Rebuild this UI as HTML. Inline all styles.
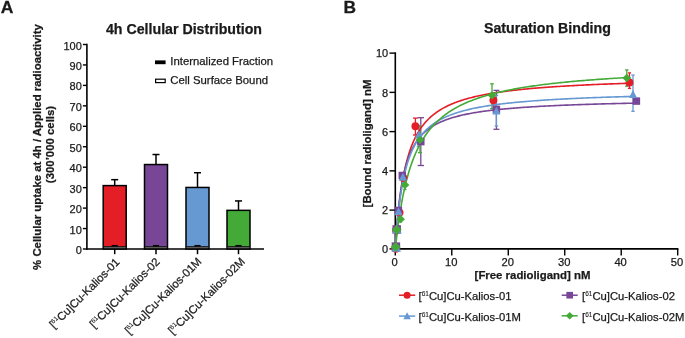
<!DOCTYPE html>
<html><head><meta charset="utf-8"><style>
html,body{margin:0;padding:0;background:#fff;width:685px;height:338px;overflow:hidden}
svg{display:block;will-change:transform}
text{font-family:"Liberation Sans", sans-serif;fill:#1a1a1a;stroke:#1a1a1a;stroke-width:0.25px}
tspan.s{stroke-width:0.1px}
</style></head><body>
<svg width="685" height="338" viewBox="0 0 685 338">
<text transform="translate(0.7,12.7) scale(1.07,1)" font-size="16.4" font-weight="bold">A</text>
<text x="184" y="33.7" font-size="14.2" font-weight="bold" text-anchor="middle">4h Cellular Distribution</text>
<text transform="translate(40.9,147) rotate(-90)" font-size="11.4" font-weight="bold" text-anchor="middle">% Cellular uptake at 4h / Applied radioactivity</text>
<text transform="translate(53.8,144.5) rotate(-90)" font-size="11.4" font-weight="bold" text-anchor="middle">(300’000 cells)</text>
<line x1="114.7" y1="185.6" x2="114.7" y2="179.67" stroke="#000" stroke-width="1.5"/>
<line x1="111.2" y1="179.67" x2="118.2" y2="179.67" stroke="#000" stroke-width="1.5"/>
<rect x="103.2" y="185.6" width="23" height="63.4" fill="#e41e26" stroke="#000" stroke-width="1.5"/>
<rect x="103.9" y="246.6" width="21.6" height="2.4" fill="#636363"/>
<line x1="103.2" y1="246.6" x2="126.2" y2="246.6" stroke="#111" stroke-width="0.9"/>
<line x1="111.6" y1="245.7" x2="117.8" y2="245.7" stroke="#000" stroke-width="1.5"/>
<line x1="114.7" y1="249" x2="114.7" y2="254.2" stroke="#000" stroke-width="1.5"/>
<text transform="translate(120.3,262.9) rotate(-45)" font-size="11.35" text-anchor="end">[<tspan class="s" font-size="6.5" dy="-4.2">61</tspan><tspan dy="4.2">Cu]Cu-Kalios-01</tspan></text>
<line x1="156" y1="164.54" x2="156" y2="154.52" stroke="#000" stroke-width="1.5"/>
<line x1="152.5" y1="154.52" x2="159.5" y2="154.52" stroke="#000" stroke-width="1.5"/>
<rect x="144.5" y="164.54" width="23" height="84.46" fill="#784696" stroke="#000" stroke-width="1.5"/>
<rect x="145.2" y="246.6" width="21.6" height="2.4" fill="#636363"/>
<line x1="144.5" y1="246.6" x2="167.5" y2="246.6" stroke="#111" stroke-width="0.9"/>
<line x1="152.9" y1="245.7" x2="159.1" y2="245.7" stroke="#000" stroke-width="1.5"/>
<line x1="156" y1="249" x2="156" y2="254.2" stroke="#000" stroke-width="1.5"/>
<text transform="translate(160.4,262.5) rotate(-45)" font-size="11.35" text-anchor="end">[<tspan class="s" font-size="6.5" dy="-4.2">61</tspan><tspan dy="4.2">Cu]Cu-Kalios-02</tspan></text>
<line x1="197.5" y1="187.45" x2="197.5" y2="172.72" stroke="#000" stroke-width="1.5"/>
<line x1="194" y1="172.72" x2="201" y2="172.72" stroke="#000" stroke-width="1.5"/>
<rect x="186" y="187.45" width="23" height="61.55" fill="#6699d2" stroke="#000" stroke-width="1.5"/>
<rect x="186.7" y="246.6" width="21.6" height="2.4" fill="#636363"/>
<line x1="186" y1="246.6" x2="209" y2="246.6" stroke="#111" stroke-width="0.9"/>
<line x1="194.4" y1="245.7" x2="200.6" y2="245.7" stroke="#000" stroke-width="1.5"/>
<line x1="197.5" y1="249" x2="197.5" y2="254.2" stroke="#000" stroke-width="1.5"/>
<text transform="translate(202.3,262.2) rotate(-45)" font-size="11.35" text-anchor="end">[<tspan class="s" font-size="6.5" dy="-4.2">61</tspan><tspan dy="4.2">Cu]Cu-Kalios-01M</tspan></text>
<line x1="238.5" y1="210.35" x2="238.5" y2="200.94" stroke="#000" stroke-width="1.5"/>
<line x1="235" y1="200.94" x2="242" y2="200.94" stroke="#000" stroke-width="1.5"/>
<rect x="227" y="210.35" width="23" height="38.65" fill="#43aa37" stroke="#000" stroke-width="1.5"/>
<rect x="227.7" y="246.6" width="21.6" height="2.4" fill="#636363"/>
<line x1="227" y1="246.6" x2="250" y2="246.6" stroke="#111" stroke-width="0.9"/>
<line x1="235.4" y1="245.7" x2="241.6" y2="245.7" stroke="#000" stroke-width="1.5"/>
<line x1="238.5" y1="249" x2="238.5" y2="254.2" stroke="#000" stroke-width="1.5"/>
<text transform="translate(245.7,262.2) rotate(-45)" font-size="11.35" text-anchor="end">[<tspan class="s" font-size="6.5" dy="-4.2">61</tspan><tspan dy="4.2">Cu]Cu-Kalios-02M</tspan></text>
<line x1="86.9" y1="43.7" x2="86.9" y2="249.8" stroke="#000" stroke-width="1.6"/>
<line x1="86.1" y1="249" x2="264" y2="249" stroke="#000" stroke-width="1.6"/>
<line x1="82.9" y1="249" x2="86.9" y2="249" stroke="#000" stroke-width="1.4"/>
<text x="81.8" y="254" font-size="11" text-anchor="end">0</text>
<line x1="82.9" y1="228.55" x2="86.9" y2="228.55" stroke="#000" stroke-width="1.4"/>
<text x="81.8" y="233.55" font-size="11" text-anchor="end">10</text>
<line x1="82.9" y1="208.1" x2="86.9" y2="208.1" stroke="#000" stroke-width="1.4"/>
<text x="81.8" y="213.1" font-size="11" text-anchor="end">20</text>
<line x1="82.9" y1="187.65" x2="86.9" y2="187.65" stroke="#000" stroke-width="1.4"/>
<text x="81.8" y="192.65" font-size="11" text-anchor="end">30</text>
<line x1="82.9" y1="167.2" x2="86.9" y2="167.2" stroke="#000" stroke-width="1.4"/>
<text x="81.8" y="172.2" font-size="11" text-anchor="end">40</text>
<line x1="82.9" y1="146.75" x2="86.9" y2="146.75" stroke="#000" stroke-width="1.4"/>
<text x="81.8" y="151.75" font-size="11" text-anchor="end">50</text>
<line x1="82.9" y1="126.3" x2="86.9" y2="126.3" stroke="#000" stroke-width="1.4"/>
<text x="81.8" y="131.3" font-size="11" text-anchor="end">60</text>
<line x1="82.9" y1="105.85" x2="86.9" y2="105.85" stroke="#000" stroke-width="1.4"/>
<text x="81.8" y="110.85" font-size="11" text-anchor="end">70</text>
<line x1="82.9" y1="85.4" x2="86.9" y2="85.4" stroke="#000" stroke-width="1.4"/>
<text x="81.8" y="90.4" font-size="11" text-anchor="end">80</text>
<line x1="82.9" y1="64.95" x2="86.9" y2="64.95" stroke="#000" stroke-width="1.4"/>
<text x="81.8" y="69.95" font-size="11" text-anchor="end">90</text>
<line x1="82.9" y1="44.5" x2="86.9" y2="44.5" stroke="#000" stroke-width="1.4"/>
<text x="81.8" y="49.5" font-size="11" text-anchor="end">100</text>
<rect x="155" y="60.4" width="10.6" height="3.8" fill="#000"/>
<text x="170.3" y="65.4" font-size="11.35">Internalized Fraction</text>
<rect x="155.6" y="79.2" width="9.6" height="3.4" fill="#fff" stroke="#000" stroke-width="1.2"/>
<text x="170.3" y="83.8" font-size="11.35">Cell Surface Bound</text>
<text transform="translate(343.6,12.8) scale(1.06,1)" font-size="16.4" font-weight="bold">B</text>
<text x="547.4" y="33.4" font-size="14.2" font-weight="bold" text-anchor="middle">Saturation Binding</text>
<text transform="translate(371.4,143.5) rotate(-90)" font-size="11.4" font-weight="bold" text-anchor="middle">[Bound radioligand] nM</text>
<text x="532.5" y="278.6" font-size="11.4" font-weight="bold" text-anchor="middle">[Free radioligand] nM</text>
<line x1="395.3" y1="52.33" x2="395.3" y2="249.7" stroke="#000" stroke-width="1.6"/>
<line x1="394.5" y1="248.9" x2="678.4" y2="248.9" stroke="#000" stroke-width="1.6"/>
<line x1="389.5" y1="248.9" x2="395.3" y2="248.9" stroke="#000" stroke-width="1.4"/>
<text x="388.2" y="252.7" font-size="11" text-anchor="end">0</text>
<line x1="389.5" y1="210.09" x2="395.3" y2="210.09" stroke="#000" stroke-width="1.4"/>
<text x="388.2" y="214.39" font-size="11" text-anchor="end">2</text>
<line x1="389.5" y1="170.85" x2="395.3" y2="170.85" stroke="#000" stroke-width="1.4"/>
<text x="388.2" y="175.15" font-size="11" text-anchor="end">4</text>
<line x1="389.5" y1="131.61" x2="395.3" y2="131.61" stroke="#000" stroke-width="1.4"/>
<text x="388.2" y="135.91" font-size="11" text-anchor="end">6</text>
<line x1="389.5" y1="92.37" x2="395.3" y2="92.37" stroke="#000" stroke-width="1.4"/>
<text x="388.2" y="96.67" font-size="11" text-anchor="end">8</text>
<line x1="389.5" y1="53.13" x2="395.3" y2="53.13" stroke="#000" stroke-width="1.4"/>
<text x="388.2" y="57.43" font-size="11" text-anchor="end">10</text>
<line x1="395.3" y1="248.9" x2="395.3" y2="255.6" stroke="#000" stroke-width="1.4"/>
<text x="394.7" y="266.3" font-size="11.2" text-anchor="middle">0</text>
<line x1="451.78" y1="248.9" x2="451.78" y2="255.6" stroke="#000" stroke-width="1.4"/>
<text x="451.18" y="266.3" font-size="11.2" text-anchor="middle">10</text>
<line x1="508.26" y1="248.9" x2="508.26" y2="255.6" stroke="#000" stroke-width="1.4"/>
<text x="507.66" y="266.3" font-size="11.2" text-anchor="middle">20</text>
<line x1="564.74" y1="248.9" x2="564.74" y2="255.6" stroke="#000" stroke-width="1.4"/>
<text x="564.14" y="266.3" font-size="11.2" text-anchor="middle">30</text>
<line x1="621.22" y1="248.9" x2="621.22" y2="255.6" stroke="#000" stroke-width="1.4"/>
<text x="620.62" y="266.3" font-size="11.2" text-anchor="middle">40</text>
<line x1="677.7" y1="248.9" x2="677.7" y2="255.6" stroke="#000" stroke-width="1.4"/>
<text x="677.1" y="266.3" font-size="11.2" text-anchor="middle">50</text>
<line x1="415.4" y1="118.1" x2="415.4" y2="135" stroke="#e41e26" stroke-width="1.3"/><line x1="413" y1="118.1" x2="417.8" y2="118.1" stroke="#e41e26" stroke-width="1.3"/><line x1="413" y1="135" x2="417.8" y2="135" stroke="#e41e26" stroke-width="1.3"/>
<line x1="493.4" y1="96" x2="493.4" y2="105" stroke="#e41e26" stroke-width="1.3"/><line x1="491.4" y1="96" x2="495.4" y2="96" stroke="#e41e26" stroke-width="1.3"/><line x1="491.4" y1="105" x2="495.4" y2="105" stroke="#e41e26" stroke-width="1.3"/>
<line x1="629.5" y1="72.9" x2="629.5" y2="88.4" stroke="#e41e26" stroke-width="1.3"/><line x1="627.9" y1="72.9" x2="631.1" y2="72.9" stroke="#e41e26" stroke-width="1.3"/><line x1="627.9" y1="88.4" x2="631.1" y2="88.4" stroke="#e41e26" stroke-width="1.3"/>
<line x1="420.8" y1="117.7" x2="420.8" y2="165.5" stroke="#784696" stroke-width="1.3"/><line x1="417.6" y1="117.7" x2="424" y2="117.7" stroke="#784696" stroke-width="1.3"/><line x1="417.6" y1="165.5" x2="424" y2="165.5" stroke="#784696" stroke-width="1.3"/>
<line x1="496.4" y1="90.4" x2="496.4" y2="129.3" stroke="#784696" stroke-width="1.3"/><line x1="493.4" y1="90.4" x2="499.4" y2="90.4" stroke="#784696" stroke-width="1.3"/><line x1="493.4" y1="129.3" x2="499.4" y2="129.3" stroke="#784696" stroke-width="1.3"/>
<line x1="636.4" y1="100" x2="636.4" y2="102" stroke="#784696" stroke-width="1.3"/><line x1="636.39" y1="100" x2="636.41" y2="100" stroke="#784696" stroke-width="1.3"/><line x1="636.39" y1="102" x2="636.41" y2="102" stroke="#784696" stroke-width="1.3"/>
<line x1="418.8" y1="125.4" x2="418.8" y2="146.5" stroke="#6699d2" stroke-width="1.3"/><line x1="416.8" y1="125.4" x2="420.8" y2="125.4" stroke="#6699d2" stroke-width="1.3"/><line x1="416.8" y1="146.5" x2="420.8" y2="146.5" stroke="#6699d2" stroke-width="1.3"/>
<line x1="496.4" y1="95.4" x2="496.4" y2="126" stroke="#6699d2" stroke-width="1.3"/><line x1="494.6" y1="95.4" x2="498.2" y2="95.4" stroke="#6699d2" stroke-width="1.3"/><line x1="494.6" y1="126" x2="498.2" y2="126" stroke="#6699d2" stroke-width="1.3"/>
<line x1="633" y1="75.1" x2="633" y2="111.3" stroke="#6699d2" stroke-width="1.3"/><line x1="631.3" y1="75.1" x2="634.7" y2="75.1" stroke="#6699d2" stroke-width="1.3"/><line x1="631.3" y1="111.3" x2="634.7" y2="111.3" stroke="#6699d2" stroke-width="1.3"/>
<line x1="400.6" y1="216" x2="400.6" y2="222" stroke="#43aa37" stroke-width="1.3"/><line x1="399.1" y1="216" x2="402.1" y2="216" stroke="#43aa37" stroke-width="1.3"/><line x1="399.1" y1="222" x2="402.1" y2="222" stroke="#43aa37" stroke-width="1.3"/>
<line x1="405" y1="182" x2="405" y2="189.6" stroke="#43aa37" stroke-width="1.3"/><line x1="403.5" y1="182" x2="406.5" y2="182" stroke="#43aa37" stroke-width="1.3"/><line x1="403.5" y1="189.6" x2="406.5" y2="189.6" stroke="#43aa37" stroke-width="1.3"/>
<line x1="420" y1="126.4" x2="420" y2="152.7" stroke="#43aa37" stroke-width="1.3"/><line x1="418" y1="126.4" x2="422" y2="126.4" stroke="#43aa37" stroke-width="1.3"/><line x1="418" y1="152.7" x2="422" y2="152.7" stroke="#43aa37" stroke-width="1.3"/>
<line x1="492" y1="83.8" x2="492" y2="108.6" stroke="#43aa37" stroke-width="1.3"/><line x1="490.2" y1="83.8" x2="493.8" y2="83.8" stroke="#43aa37" stroke-width="1.3"/><line x1="490.2" y1="108.6" x2="493.8" y2="108.6" stroke="#43aa37" stroke-width="1.3"/>
<line x1="626.8" y1="69.9" x2="626.8" y2="86.2" stroke="#43aa37" stroke-width="1.3"/><line x1="625.1" y1="69.9" x2="628.5" y2="69.9" stroke="#43aa37" stroke-width="1.3"/><line x1="625.1" y1="86.2" x2="628.5" y2="86.2" stroke="#43aa37" stroke-width="1.3"/>
<path d="M395.58,245.03 L395.58,245.01 L395.59,244.93 L395.6,244.8 L395.61,244.61 L395.63,244.34 L395.65,244 L395.68,243.6 L395.71,243.11 L395.75,242.55 L395.8,241.92 L395.84,241.21 L395.9,240.43 L395.96,239.57 L396.03,238.64 L396.1,237.64 L396.18,236.57 L396.27,235.44 L396.36,234.23 L396.46,232.97 L396.56,231.64 L396.67,230.26 L396.79,228.82 L396.91,227.32 L397.04,225.78 L397.18,224.2 L397.32,222.57 L397.47,220.9 L397.63,219.2 L397.8,217.46 L397.97,215.7 L398.15,213.9 L398.33,212.09 L398.52,210.26 L398.72,208.41 L398.93,206.54 L399.15,204.67 L399.37,202.78 L399.6,200.89 L399.83,199 L400.07,197.11 L400.33,195.22 L400.58,193.34 L400.85,191.46 L401.12,189.59 L401.4,187.72 L401.69,185.88 L401.99,184.04 L402.29,182.22 L402.6,180.41 L402.92,178.63 L403.25,176.86 L403.58,175.11 L403.93,173.38 L404.28,171.67 L404.63,169.99 L405,168.32 L405.37,166.69 L405.76,165.07 L406.15,163.48 L406.54,161.91 L406.95,160.37 L407.36,158.85 L407.79,157.36 L408.22,155.89 L408.65,154.45 L409.1,153.03 L409.56,151.64 L410.02,150.28 L410.49,148.94 L410.97,147.62 L411.46,146.33 L411.95,145.06 L412.46,143.82 L412.97,142.6 L413.49,141.4 L414.02,140.23 L414.56,139.09 L415.11,137.96 L415.66,136.86 L416.22,135.78 L416.8,134.72 L417.38,133.68 L417.96,132.66 L418.56,131.67 L419.17,130.69 L419.78,129.74 L420.41,128.8 L421.04,127.89 L421.68,126.99 L422.33,126.11 L422.99,125.25 L423.65,124.41 L424.33,123.58 L425.01,122.77 L425.71,121.98 L426.41,121.21 L427.12,120.45 L427.84,119.71 L428.57,118.98 L429.31,118.27 L430.05,117.57 L430.81,116.88 L431.57,116.21 L432.34,115.56 L433.13,114.92 L433.92,114.29 L434.72,113.67 L435.53,113.07 L436.35,112.48 L437.17,111.9 L438.01,111.33 L438.85,110.77 L439.71,110.23 L440.57,109.69 L441.45,109.17 L442.33,108.66 L443.22,108.16 L444.12,107.66 L445.03,107.18 L445.95,106.71 L446.88,106.24 L447.81,105.79 L448.76,105.34 L449.72,104.91 L450.68,104.48 L451.65,104.06 L452.64,103.64 L453.63,103.24 L454.63,102.84 L455.65,102.45 L456.67,102.07 L457.7,101.7 L458.74,101.33 L459.79,100.97 L460.85,100.62 L461.91,100.27 L462.99,99.93 L464.08,99.59 L465.18,99.27 L466.28,98.94 L467.4,98.63 L468.52,98.32 L469.66,98.01 L470.8,97.71 L471.96,97.42 L473.12,97.13 L474.29,96.85 L475.48,96.57 L476.67,96.3 L477.87,96.03 L479.08,95.76 L480.3,95.5 L481.53,95.25 L482.77,95 L484.02,94.75 L485.29,94.51 L486.56,94.27 L487.83,94.04 L489.12,93.81 L490.42,93.59 L491.73,93.36 L493.05,93.15 L494.38,92.93 L495.72,92.72 L497.07,92.51 L498.42,92.31 L499.79,92.11 L501.17,91.91 L502.56,91.72 L503.95,91.53 L505.36,91.34 L506.78,91.15 L508.21,90.97 L509.64,90.79 L511.09,90.62 L512.55,90.44 L514.02,90.27 L515.49,90.11 L516.98,89.94 L518.48,89.78 L519.98,89.62 L521.5,89.46 L523.03,89.31 L524.56,89.15 L526.11,89 L527.67,88.86 L529.24,88.71 L530.81,88.57 L532.4,88.42 L534,88.29 L535.61,88.15 L537.23,88.01 L538.85,87.88 L540.49,87.75 L542.14,87.62 L543.8,87.49 L545.47,87.37 L547.15,87.24 L548.84,87.12 L550.53,87 L552.24,86.88 L553.96,86.77 L555.69,86.65 L557.43,86.54 L559.18,86.43 L560.95,86.31 L562.72,86.21 L564.5,86.1 L566.29,85.99 L568.09,85.89 L569.9,85.79 L571.73,85.69 L573.56,85.59 L575.4,85.49 L577.26,85.39 L579.12,85.29 L581,85.2 L582.88,85.11 L584.78,85.01 L586.68,84.92 L588.6,84.83 L590.53,84.74 L592.46,84.66 L594.41,84.57 L596.37,84.49 L598.34,84.4 L600.32,84.32 L602.31,84.24 L604.31,84.16 L606.32,84.08 L608.34,84 L610.37,83.92 L612.41,83.84 L614.46,83.77 L616.53,83.69 L618.6,83.62 L620.68,83.55 L622.78,83.48 L624.88,83.4 L627,83.33" fill="none" stroke="#e41e26" stroke-width="1.6"/>
<path d="M395.58,244.51 L395.58,244.48 L395.59,244.4 L395.6,244.25 L395.61,244.02 L395.63,243.72 L395.65,243.33 L395.68,242.86 L395.72,242.3 L395.76,241.66 L395.8,240.94 L395.86,240.13 L395.91,239.24 L395.98,238.27 L396.05,237.22 L396.12,236.1 L396.2,234.9 L396.29,233.63 L396.39,232.3 L396.49,230.9 L396.6,229.44 L396.71,227.92 L396.84,226.36 L396.96,224.74 L397.1,223.09 L397.24,221.39 L397.39,219.66 L397.55,217.9 L397.71,216.12 L397.88,214.31 L398.06,212.48 L398.25,210.64 L398.44,208.78 L398.64,206.92 L398.85,205.06 L399.06,203.19 L399.28,201.33 L399.51,199.47 L399.75,197.62 L400,195.78 L400.25,193.95 L400.51,192.13 L400.78,190.34 L401.05,188.56 L401.34,186.8 L401.63,185.06 L401.93,183.34 L402.24,181.65 L402.55,179.98 L402.88,178.33 L403.21,176.72 L403.55,175.13 L403.89,173.56 L404.25,172.03 L404.61,170.52 L404.99,169.04 L405.37,167.59 L405.75,166.17 L406.15,164.78 L406.56,163.41 L406.97,162.07 L407.39,160.76 L407.82,159.48 L408.26,158.23 L408.71,157 L409.16,155.8 L409.63,154.63 L410.1,153.48 L410.58,152.36 L411.07,151.27 L411.57,150.2 L412.07,149.15 L412.59,148.13 L413.11,147.13 L413.65,146.16 L414.19,145.21 L414.74,144.28 L415.3,143.37 L415.86,142.49 L416.44,141.62 L417.03,140.78 L417.62,139.95 L418.22,139.15 L418.84,138.36 L419.46,137.59 L420.09,136.84 L420.72,136.11 L421.37,135.4 L422.03,134.7 L422.69,134.02 L423.37,133.35 L424.05,132.7 L424.75,132.07 L425.45,131.45 L426.16,130.85 L426.88,130.25 L427.61,129.68 L428.35,129.11 L429.09,128.56 L429.85,128.02 L430.62,127.5 L431.39,126.98 L432.18,126.48 L432.97,125.99 L433.77,125.51 L434.59,125.04 L435.41,124.58 L436.24,124.14 L437.08,123.7 L437.93,123.27 L438.79,122.85 L439.66,122.44 L440.54,122.04 L441.43,121.65 L442.32,121.26 L443.23,120.89 L444.15,120.52 L445.07,120.16 L446.01,119.81 L446.95,119.47 L447.91,119.13 L448.87,118.8 L449.84,118.48 L450.83,118.16 L451.82,117.85 L452.82,117.55 L453.84,117.25 L454.86,116.96 L455.89,116.68 L456.93,116.4 L457.98,116.13 L459.04,115.86 L460.11,115.6 L461.19,115.34 L462.28,115.09 L463.38,114.84 L464.49,114.6 L465.61,114.36 L466.74,114.13 L467.88,113.9 L469.03,113.68 L470.19,113.46 L471.36,113.24 L472.54,113.03 L473.73,112.83 L474.93,112.62 L476.13,112.42 L477.35,112.23 L478.58,112.04 L479.82,111.85 L481.07,111.66 L482.33,111.48 L483.6,111.3 L484.88,111.13 L486.17,110.96 L487.46,110.79 L488.77,110.62 L490.09,110.46 L491.42,110.3 L492.76,110.14 L494.11,109.99 L495.47,109.84 L496.84,109.69 L498.22,109.54 L499.61,109.4 L501.01,109.26 L502.42,109.12 L503.84,108.98 L505.28,108.85 L506.72,108.72 L508.17,108.59 L509.63,108.46 L511.1,108.34 L512.59,108.21 L514.08,108.09 L515.58,107.97 L517.1,107.86 L518.62,107.74 L520.16,107.63 L521.7,107.52 L523.26,107.41 L524.82,107.3 L526.4,107.19 L527.98,107.09 L529.58,106.98 L531.19,106.88 L532.81,106.78 L534.43,106.68 L536.07,106.59 L537.72,106.49 L539.38,106.4 L541.05,106.31 L542.73,106.22 L544.43,106.13 L546.13,106.04 L547.84,105.95 L549.56,105.87 L551.3,105.78 L553.04,105.7 L554.8,105.62 L556.56,105.54 L558.34,105.46 L560.12,105.38 L561.92,105.3 L563.73,105.23 L565.55,105.15 L567.38,105.08 L569.22,105.01 L571.07,104.94 L572.93,104.87 L574.8,104.8 L576.68,104.73 L578.58,104.66 L580.48,104.59 L582.4,104.53 L584.32,104.46 L586.26,104.4 L588.21,104.34 L590.17,104.27 L592.13,104.21 L594.11,104.15 L596.11,104.09 L598.11,104.03 L600.12,103.98 L602.14,103.92 L604.18,103.86 L606.22,103.81 L608.28,103.75 L610.34,103.7 L612.42,103.64 L614.51,103.59 L616.61,103.54 L618.72,103.49 L620.84,103.44 L622.98,103.39 L625.12,103.34 L627.27,103.29 L629.44,103.24 L631.61,103.19 L633.8,103.15 L636,103.1" fill="none" stroke="#784696" stroke-width="1.6"/>
<path d="M395.58,245.1 L395.58,245.08 L395.59,245.01 L395.6,244.87 L395.61,244.68 L395.63,244.41 L395.65,244.07 L395.68,243.66 L395.72,243.17 L395.76,242.61 L395.8,241.98 L395.85,241.27 L395.91,240.49 L395.97,239.63 L396.04,238.7 L396.12,237.7 L396.2,236.63 L396.28,235.5 L396.38,234.3 L396.48,233.05 L396.59,231.73 L396.7,230.36 L396.82,228.93 L396.95,227.46 L397.08,225.94 L397.22,224.38 L397.37,222.79 L397.52,221.15 L397.69,219.49 L397.85,217.79 L398.03,216.07 L398.21,214.33 L398.4,212.57 L398.6,210.8 L398.81,209.01 L399.02,207.21 L399.24,205.41 L399.46,203.6 L399.7,201.79 L399.94,199.99 L400.19,198.18 L400.45,196.38 L400.71,194.59 L400.99,192.81 L401.27,191.04 L401.55,189.29 L401.85,187.55 L402.15,185.82 L402.47,184.12 L402.78,182.43 L403.11,180.76 L403.45,179.11 L403.79,177.49 L404.14,175.88 L404.5,174.3 L404.87,172.74 L405.24,171.21 L405.63,169.7 L406.02,168.21 L406.42,166.75 L406.83,165.31 L407.24,163.9 L407.67,162.52 L408.1,161.16 L408.54,159.82 L408.99,158.51 L409.45,157.23 L409.92,155.97 L410.39,154.73 L410.88,153.52 L411.37,152.34 L411.87,151.17 L412.38,150.03 L412.89,148.92 L413.42,147.83 L413.96,146.76 L414.5,145.71 L415.05,144.68 L415.61,143.68 L416.18,142.7 L416.76,141.74 L417.35,140.79 L417.94,139.87 L418.54,138.97 L419.16,138.09 L419.78,137.23 L420.41,136.38 L421.05,135.56 L421.7,134.75 L422.36,133.96 L423.02,133.19 L423.7,132.43 L424.38,131.69 L425.07,130.96 L425.78,130.26 L426.49,129.56 L427.21,128.88 L427.94,128.22 L428.68,127.57 L429.42,126.94 L430.18,126.31 L430.95,125.7 L431.72,125.11 L432.5,124.53 L433.3,123.96 L434.1,123.4 L434.91,122.85 L435.73,122.32 L436.56,121.79 L437.4,121.28 L438.25,120.78 L439.11,120.29 L439.98,119.8 L440.85,119.33 L441.74,118.87 L442.63,118.42 L443.54,117.98 L444.45,117.54 L445.38,117.12 L446.31,116.7 L447.25,116.29 L448.21,115.89 L449.17,115.5 L450.14,115.12 L451.12,114.74 L452.11,114.38 L453.11,114.01 L454.12,113.66 L455.14,113.31 L456.16,112.97 L457.2,112.64 L458.25,112.31 L459.31,111.99 L460.37,111.68 L461.45,111.37 L462.54,111.06 L463.63,110.77 L464.74,110.48 L465.85,110.19 L466.98,109.91 L468.11,109.64 L469.26,109.37 L470.41,109.1 L471.58,108.84 L472.75,108.58 L473.94,108.33 L475.13,108.09 L476.33,107.85 L477.55,107.61 L478.77,107.38 L480,107.15 L481.25,106.92 L482.5,106.7 L483.76,106.49 L485.04,106.27 L486.32,106.06 L487.61,105.86 L488.91,105.66 L490.23,105.46 L491.55,105.26 L492.88,105.07 L494.23,104.88 L495.58,104.7 L496.94,104.52 L498.31,104.34 L499.7,104.16 L501.09,103.99 L502.49,103.82 L503.91,103.65 L505.33,103.49 L506.76,103.32 L508.21,103.16 L509.66,103.01 L511.13,102.85 L512.6,102.7 L514.09,102.55 L515.58,102.41 L517.09,102.26 L518.6,102.12 L520.13,101.98 L521.66,101.84 L523.21,101.71 L524.77,101.58 L526.33,101.44 L527.91,101.32 L529.5,101.19 L531.09,101.06 L532.7,100.94 L534.32,100.82 L535.95,100.7 L537.59,100.58 L539.24,100.47 L540.9,100.35 L542.57,100.24 L544.25,100.13 L545.94,100.02 L547.64,99.91 L549.35,99.81 L551.08,99.7 L552.81,99.6 L554.55,99.5 L556.31,99.4 L558.07,99.3 L559.85,99.2 L561.63,99.11 L563.43,99.01 L565.23,98.92 L567.05,98.83 L568.88,98.74 L570.72,98.65 L572.57,98.56 L574.42,98.47 L576.29,98.39 L578.18,98.3 L580.07,98.22 L581.97,98.14 L583.88,98.06 L585.8,97.98 L587.74,97.9 L589.68,97.82 L591.64,97.75 L593.6,97.67 L595.58,97.6 L597.57,97.52 L599.57,97.45 L601.57,97.38 L603.59,97.31 L605.62,97.24 L607.66,97.17 L609.72,97.1 L611.78,97.04 L613.85,96.97 L615.94,96.9 L618.03,96.84 L620.14,96.78 L622.25,96.71 L624.38,96.65 L626.52,96.59 L628.67,96.53 L630.83,96.47 L633,96.41" fill="none" stroke="#6699d2" stroke-width="1.6"/>
<path d="M395.58,246.61 L395.58,246.6 L395.59,246.55 L395.6,246.47 L395.61,246.34 L395.63,246.17 L395.65,245.96 L395.68,245.7 L395.71,245.39 L395.75,245.03 L395.79,244.62 L395.84,244.16 L395.9,243.65 L395.96,243.09 L396.03,242.48 L396.1,241.82 L396.18,241.11 L396.27,240.35 L396.36,239.55 L396.45,238.69 L396.56,237.79 L396.67,236.85 L396.79,235.86 L396.91,234.82 L397.04,233.75 L397.18,232.63 L397.32,231.47 L397.47,230.28 L397.63,229.05 L397.79,227.79 L397.96,226.49 L398.14,225.16 L398.33,223.8 L398.52,222.42 L398.72,221 L398.93,219.57 L399.14,218.11 L399.36,216.62 L399.59,215.12 L399.83,213.61 L400.07,212.07 L400.32,210.52 L400.58,208.96 L400.84,207.39 L401.12,205.81 L401.4,204.22 L401.68,202.62 L401.98,201.02 L402.28,199.42 L402.59,197.81 L402.91,196.2 L403.24,194.6 L403.57,192.99 L403.91,191.39 L404.26,189.79 L404.62,188.2 L404.99,186.61 L405.36,185.03 L405.74,183.45 L406.13,181.89 L406.53,180.33 L406.93,178.79 L407.35,177.25 L407.77,175.73 L408.2,174.22 L408.64,172.72 L409.08,171.23 L409.54,169.76 L410,168.3 L410.47,166.86 L410.95,165.43 L411.44,164.02 L411.93,162.62 L412.44,161.24 L412.95,159.87 L413.47,158.53 L414,157.19 L414.53,155.88 L415.08,154.58 L415.63,153.29 L416.2,152.03 L416.77,150.78 L417.35,149.54 L417.94,148.33 L418.53,147.13 L419.14,145.95 L419.75,144.78 L420.37,143.63 L421.01,142.5 L421.65,141.39 L422.29,140.29 L422.95,139.21 L423.62,138.14 L424.29,137.09 L424.98,136.06 L425.67,135.04 L426.37,134.04 L427.08,133.05 L427.8,132.08 L428.53,131.13 L429.26,130.18 L430.01,129.26 L430.76,128.35 L431.53,127.45 L432.3,126.57 L433.08,125.7 L433.87,124.85 L434.67,124.01 L435.48,123.18 L436.29,122.37 L437.12,121.57 L437.95,120.78 L438.8,120.01 L439.65,119.24 L440.51,118.49 L441.39,117.76 L442.27,117.03 L443.16,116.32 L444.06,115.62 L444.96,114.93 L445.88,114.25 L446.81,113.58 L447.75,112.93 L448.69,112.28 L449.64,111.64 L450.61,111.02 L451.58,110.4 L452.56,109.8 L453.56,109.21 L454.56,108.62 L455.57,108.04 L456.59,107.48 L457.62,106.92 L458.66,106.37 L459.7,105.83 L460.76,105.3 L461.83,104.78 L462.9,104.27 L463.99,103.76 L465.08,103.27 L466.19,102.78 L467.3,102.29 L468.43,101.82 L469.56,101.35 L470.7,100.9 L471.86,100.44 L473.02,100 L474.19,99.56 L475.37,99.13 L476.56,98.71 L477.76,98.29 L478.97,97.88 L480.19,97.48 L481.42,97.08 L482.66,96.69 L483.91,96.3 L485.17,95.92 L486.44,95.55 L487.72,95.18 L489,94.82 L490.3,94.46 L491.61,94.11 L492.92,93.76 L494.25,93.42 L495.59,93.09 L496.93,92.76 L498.29,92.43 L499.66,92.11 L501.03,91.79 L502.42,91.48 L503.81,91.17 L505.22,90.87 L506.64,90.57 L508.06,90.28 L509.5,89.99 L510.94,89.71 L512.4,89.43 L513.86,89.15 L515.34,88.88 L516.82,88.61 L518.32,88.34 L519.82,88.08 L521.34,87.83 L522.86,87.57 L524.4,87.32 L525.94,87.08 L527.5,86.83 L529.06,86.59 L530.64,86.36 L532.22,86.12 L533.82,85.89 L535.43,85.67 L537.04,85.44 L538.67,85.22 L540.3,85.01 L541.95,84.79 L543.61,84.58 L545.27,84.37 L546.95,84.17 L548.64,83.96 L550.33,83.76 L552.04,83.57 L553.76,83.37 L555.49,83.18 L557.22,82.99 L558.97,82.8 L560.73,82.62 L562.5,82.44 L564.28,82.26 L566.07,82.08 L567.87,81.91 L569.68,81.73 L571.5,81.56 L573.33,81.39 L575.17,81.23 L577.02,81.06 L578.88,80.9 L580.76,80.74 L582.64,80.58 L584.53,80.43 L586.44,80.28 L588.35,80.12 L590.27,79.97 L592.21,79.83 L594.15,79.68 L596.11,79.53 L598.07,79.39 L600.05,79.25 L602.04,79.11 L604.03,78.97 L606.04,78.84 L608.06,78.71 L610.09,78.57 L612.13,78.44 L614.18,78.31 L616.24,78.19 L618.31,78.06 L620.39,77.93 L622.48,77.81 L624.59,77.69 L626.7,77.57" fill="none" stroke="#43aa37" stroke-width="1.6"/>
<circle cx="395.8" cy="248.3" r="4.46" fill="#e41e26"/>
<circle cx="396.6" cy="229.8" r="4.46" fill="#e41e26"/>
<circle cx="399.6" cy="212.6" r="3.94" fill="#e41e26"/>
<circle cx="403.4" cy="178" r="3.94" fill="#e41e26"/>
<circle cx="415.4" cy="126.3" r="3.94" fill="#e41e26"/>
<circle cx="493.4" cy="100.3" r="3.94" fill="#e41e26"/>
<circle cx="629.5" cy="82.5" r="3.94" fill="#e41e26"/>
<rect x="391.67" y="242.37" width="8.46" height="8.46" fill="#784696"/>
<rect x="392.47" y="225.17" width="8.46" height="8.46" fill="#784696"/>
<rect x="394.66" y="206.76" width="7.47" height="7.47" fill="#784696"/>
<rect x="398.56" y="171.76" width="7.47" height="7.47" fill="#784696"/>
<rect x="417.06" y="137.86" width="7.47" height="7.47" fill="#784696"/>
<rect x="492.66" y="105.67" width="7.47" height="7.47" fill="#784696"/>
<rect x="632.66" y="97.36" width="7.47" height="7.47" fill="#784696"/>
<path d="M396.2,242.87 L400.9,251.8 L391.5,251.8 Z" fill="#6699d2"/>
<path d="M397,224.56 L401.7,233.5 L392.3,233.5 Z" fill="#6699d2"/>
<path d="M398.5,207.24 L402.65,215.13 L394.35,215.13 Z" fill="#6699d2"/>
<path d="M402.9,172.84 L407.05,180.73 L398.75,180.73 Z" fill="#6699d2"/>
<path d="M418.8,130.64 L422.95,138.53 L414.65,138.53 Z" fill="#6699d2"/>
<path d="M496.4,106.64 L500.55,114.53 L492.25,114.53 Z" fill="#6699d2"/>
<path d="M633,90.04 L637.15,97.93 L628.85,97.93 Z" fill="#6699d2"/>
<path d="M395.6,242.2 L400.54,246.9 L395.6,251.6 L390.67,246.9 Z" fill="#43aa37"/>
<path d="M396.7,225.1 L401.63,229.8 L396.7,234.5 L391.76,229.8 Z" fill="#43aa37"/>
<path d="M400.6,215.05 L404.96,219.2 L400.6,223.35 L396.24,219.2 Z" fill="#43aa37"/>
<path d="M405,180.75 L409.36,184.9 L405,189.05 L400.64,184.9 Z" fill="#43aa37"/>
<path d="M420,135.65 L424.36,139.8 L420,143.95 L415.64,139.8 Z" fill="#43aa37"/>
<path d="M492,91.15 L496.36,95.3 L492,99.45 L487.64,95.3 Z" fill="#43aa37"/>
<path d="M626.8,73.85 L631.16,78 L626.8,82.15 L622.44,78 Z" fill="#43aa37"/>
<line x1="399" y1="295.2" x2="415.2" y2="295.2" stroke="#e41e26" stroke-width="1.5"/>
<circle cx="407.1" cy="295.2" r="3.52" fill="#e41e26"/>
<text x="418.5" y="300.1" font-size="11.25">[<tspan class="s" font-size="6.5" dy="-4.2">61</tspan><tspan dy="4.2">Cu]Cu-Kalios-01</tspan></text>
<line x1="399" y1="316.1" x2="415.2" y2="316.1" stroke="#6699d2" stroke-width="1.5"/>
<path d="M407.1,312.22 L410.8,319.25 L403.4,319.25 Z" fill="#6699d2"/>
<text x="418.5" y="320.9" font-size="11.25">[<tspan class="s" font-size="6.5" dy="-4.2">61</tspan><tspan dy="4.2">Cu]Cu-Kalios-01M</tspan></text>
<line x1="561.7" y1="295.2" x2="577.7" y2="295.2" stroke="#784696" stroke-width="1.5"/>
<rect x="566.37" y="291.87" width="6.66" height="6.66" fill="#784696"/>
<text x="582.1" y="300.1" font-size="11.25">[<tspan class="s" font-size="6.5" dy="-4.2">61</tspan><tspan dy="4.2">Cu]Cu-Kalios-02</tspan></text>
<line x1="561.7" y1="315.8" x2="577.7" y2="315.8" stroke="#43aa37" stroke-width="1.5"/>
<path d="M569.7,312.1 L573.59,315.8 L569.7,319.5 L565.82,315.8 Z" fill="#43aa37"/>
<text x="582.1" y="320.9" font-size="11.25">[<tspan class="s" font-size="6.5" dy="-4.2">61</tspan><tspan dy="4.2">Cu]Cu-Kalios-02M</tspan></text>
</svg>
</body></html>
